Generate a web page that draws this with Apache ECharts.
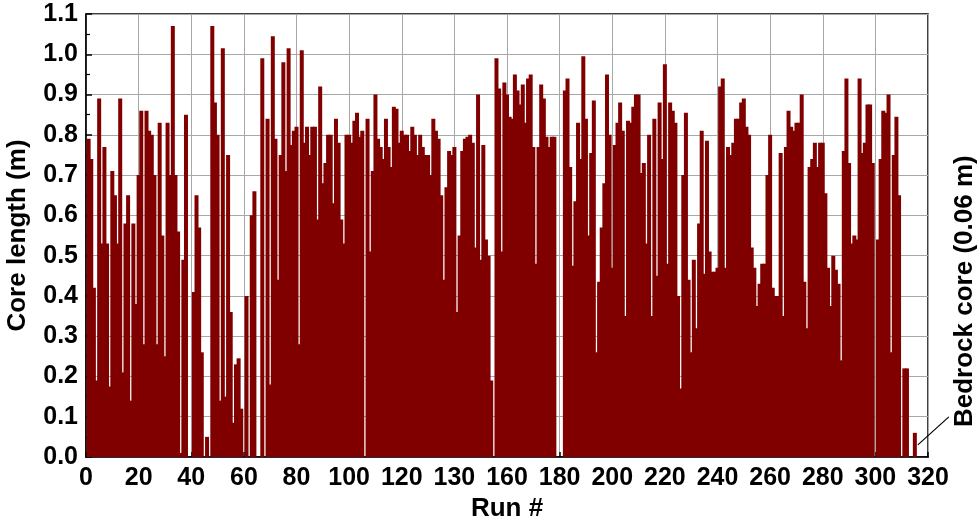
<!DOCTYPE html>
<html>
<head>
<meta charset="utf-8">
<script src="https://cdn.jsdelivr.net/npm/echarts@6/dist/echarts.min.js"></script>
<style>
  html, body { margin: 0; padding: 0; background: #fff; }
  #chart { width: 980px; height: 524px; }
</style>
</head>
<body>
<div id="chart"></div>
<script>
// core length per run (m), runs 1..315
var coreLength = [
  0.79, 0.74, 0.42, 0.19, 0.89, 0.53, 0.77, 0.53, 0.175, 0.71,
  0.65, 0.53, 0.89, 0.21, 0.58, 0.65, 0.14, 0.58, 0.38, 0.70,
  0.86, 0.28, 0.86, 0.81, 0.80, 0.70, 0.28, 0.83, 0.55, 0.25,
  0.83, 0.70, 1.07, 0.70, 0.56, 0.01, 0.49, 0.85, 0, 0,
  0.41, 0.65, 0.57, 0.26, 0, 0.05, 0, 1.07, 0.88, 0.80,
  0.14, 1.015, 0.15, 0.75, 0.36, 0.085, 0.23, 0.245, 0.12, 0,
  0.40, 0, 0.60, 0.66, 0, 0, 0.99, 0, 0.84, 0.18,
  1.045, 0.79, 0.44, 0.75, 0.98, 0.71, 1.015, 0.775, 0.81, 0.82,
  0.28, 1.01, 0.78, 0.82, 0.75, 0.82, 0.82, 0.59, 0.92, 0.68,
  0.73, 0.80, 0.80, 0.63, 0.84, 0.78, 0.59, 0.53, 0.80, 0.80,
  0.78,
  0.835, 0.855, 0.795, 0.81, 0, 0.84, 0.51, 0.71, 0.90, 0.79,
  0.77, 0.74, 0.84, 0.77, 0.72, 0.87, 0.865, 0.78, 0.81, 0.80,
  0.80, 0.76, 0.82, 0.80, 0.75, 0.80, 0.77, 0.75, 0.75, 0.70,
  0.84, 0.81, 0.79, 0.65, 0.44, 0.67, 0.76, 0.75, 0.77, 0.36,
  0.55, 0.76, 0.79, 0.795, 0.80, 0.78, 0.52, 0.90, 0.49, 0.775,
  0.54,
  0.50, 0.19, 0, 0.99, 0.915, 0.51, 0.93, 0.90, 0.845, 0.84,
  0.95, 0.91, 0.875, 0.925, 0.83, 0.94, 0.95, 0.77, 0.48, 0.77,
  0.925, 0.89, 0.795, 0.77, 0.795, 0.795, 0, 0, 0, 0.91,
  0.94, 0.72, 0.475, 0.635, 0.83, 0.74, 0.995, 0.84, 0.55, 0.755,
  0.885, 0.26, 0.435, 0.57, 0.68, 0.95, 0.80, 0.47, 0.775, 0.83,
  0.88,
  0.81, 0.35, 0.835, 0.83, 0.87, 0.90, 0.90, 0.705, 0.73, 0.53,
  0.80, 0.35, 0.84, 0.45, 0.88, 0.74, 0.975, 0.48, 0.88, 0.86,
  0.83, 0.40, 0.17, 0.70, 0.855, 0.44, 0.26, 0.49, 0.32, 0.58,
  0.81, 0.455, 0.785, 0.51, 0.46, 0.46, 0.47, 0.92, 0.94, 0.47,
  0.77, 0.75, 0.78, 0.84, 0.84, 0.88, 0.89, 0.82, 0.80, 0.52,
  0.47, 0.375, 0.43,
  0.48, 0.48, 0.70, 0.80, 0.42, 0.40, 0.40, 0.755, 0.35, 0.77,
  0.86, 0.82, 0.81, 0.83, 0.83, 0.90, 0.435, 0.32, 0.72, 0.74,
  0.78, 0.72, 0.78, 0.78, 0.655, 0.47, 0.375, 0.50, 0.465, 0.43,
  0.24, 0.76, 0.94, 0.73, 0.53, 0.55, 0.54, 0.94, 0.755, 0.78,
  0.875, 0.875, 0.73, 0, 0.54, 0.74, 0.86, 0.855, 0.90, 0.26,
  0.75, 0.845, 0.65, 0, 0.22, 0.22, 0, 0, 0.06
];

// x tick labels as printed on the figure (the 140 tick reads "130")
var xTickLabels = ["0", "20", "40", "60", "80", "100", "120", "130", "160",
  "180", "200", "220", "240", "260", "280", "300", "320"];

var bedrockRun = 315;
var bedrockLabel = "Bedrock core (0.06 m)";

var barData = coreLength.map(function (v, i) { return [i + 1, v]; });

var myChart = echarts.init(document.getElementById("chart"));
var font = "Liberation Sans, Arial, sans-serif";

myChart.setOption({
  animation: false,
  textStyle: { fontFamily: font },
  grid: {
    left: 86, right: 52, top: 14, bottom: 67,
    outerBoundsMode: "none",
    show: true, borderColor: "#000", borderWidth: 1.5, backgroundColor: "transparent"
  },
  xAxis: {
    type: "value",
    min: 0, max: 320, interval: 20,
    name: "Run #",
    nameLocation: "middle",
    nameGap: 39,
    nameTextStyle: { fontSize: 26, fontWeight: "bold", color: "#000", fontFamily: font },
    axisLine: { lineStyle: { color: "#000", width: 1.5 } },
    axisTick: { inside: true, length: 5, lineStyle: { color: "#000", width: 1.5 } },
    axisLabel: {
      color: "#000", fontSize: 25, fontWeight: "bold", margin: 9, fontFamily: font,
      formatter: function (v) { return xTickLabels[Math.round(v / 20)]; }
    },
    splitLine: { show: true, lineStyle: { color: "#a8a8a8", width: 1 } }
  },
  yAxis: {
    type: "value",
    min: 0, max: 1.1, interval: 0.1,
    name: "Core length (m)",
    nameLocation: "middle",
    nameGap: 55,
    nameTextStyle: { fontSize: 26, fontWeight: "bold", color: "#000", fontFamily: font },
    axisLine: { show: true, lineStyle: { color: "#000", width: 1.5 } },
    axisTick: { inside: true, length: 6, lineStyle: { color: "#000", width: 1.5 } },
    minorTick: { show: true, splitNumber: 2, length: 4, lineStyle: { color: "#000", width: 1.2 } },
    axisLabel: {
      color: "#000", fontSize: 25, fontWeight: "bold", margin: 8, fontFamily: font,
      formatter: function (v) { return v.toFixed(1); }
    },
    splitLine: { show: true, lineStyle: { color: "#a8a8a8", width: 1 } }
  },
  series: [
    {
      type: "bar",
      data: barData,
      barWidth: 4,
      itemStyle: { color: "#800000" }
    }
  ]
});

// leader line + rotated label for the bedrock core
var p = myChart.convertToPixel({ gridIndex: 0 }, [bedrockRun, 0.06]);
myChart.setOption({
  graphic: [
    {
      type: "line",
      shape: { x1: p[0] + 3, y1: p[1] + 12, x2: p[0] + 34, y2: p[1] - 16 },
      style: { stroke: "#000", lineWidth: 1.2 }
    },
    {
      type: "text",
      x: 965, y: 427,
      rotation: Math.PI / 2,
      style: {
        text: bedrockLabel,
        fontSize: 26, fontWeight: "bold", fill: "#000", fontFamily: font,
        align: "left", verticalAlign: "middle"
      }
    }
  ]
});
</script>
</body>
</html>
